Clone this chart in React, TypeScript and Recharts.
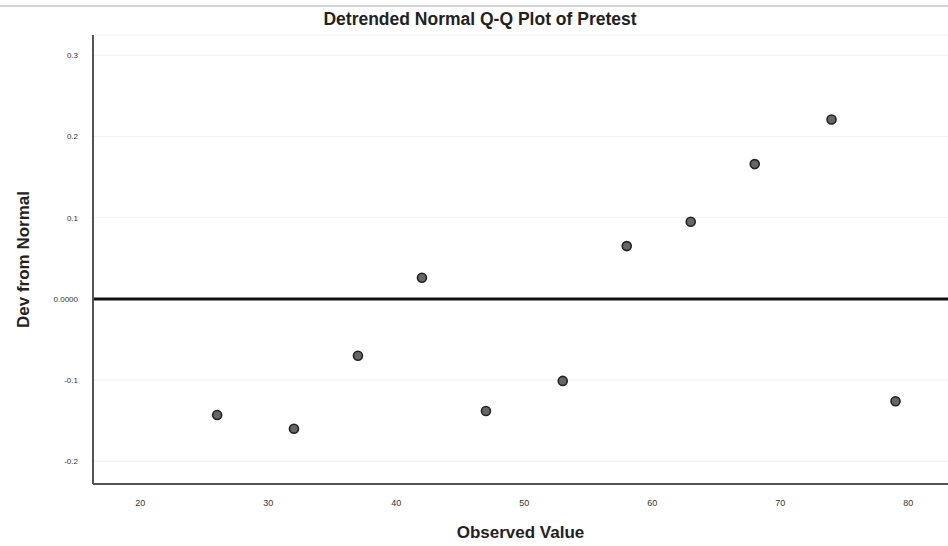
import {
  ScatterChart,
  Scatter,
  XAxis,
  YAxis,
  CartesianGrid,
  ReferenceLine,
} from 'recharts'

// observed pretest score vs deviation from normal
const observed = [26, 32, 37, 42, 47, 53, 58, 63, 68, 74, 79]
const deviation = [-0.143, -0.16, -0.07, 0.026, -0.138, -0.101, 0.065, 0.095, 0.166, 0.221, -0.126]
const xTicks = [20, 30, 40, 50, 60, 70, 80]
const yTicks = [-0.2, -0.1, 0, 0.1, 0.2, 0.3]

const points = observed.map((x, i) => ({ x, y: deviation[i] }))

const W = 948
const H = 546

function Dot(props: any) {
  const { cx, cy } = props
  if (cx == null || cy == null) return null
  return <circle cx={cx} cy={cy} r={4.5} fill="#666" stroke="#222" strokeWidth={1.6} />
}

const fmtY = (v: number) => (v === 0 ? '0.0000' : String(v))

export default function App() {
  return (
    <div style={{ position: 'absolute', left: 0, top: 0, width: W, height: H, background: '#fff', fontFamily: 'Arial, "Liberation Sans", sans-serif' }}>
      <div style={{ position: 'absolute', left: 0, top: 5, width: W, borderTop: '2px solid #d4d4d4' }} />
      <div
        style={{
          position: 'absolute',
          left: 0,
          top: 9,
          width: 960,
          textAlign: 'center',
          fontSize: 17.5,
          lineHeight: '20px',
          fontWeight: 'bold',
          color: '#222',
        }}
      >
        Detrended Normal Q-Q Plot of Pretest
      </div>
      <ScatterChart width={W} height={H} margin={{ top: 35, right: 0, bottom: 0, left: 0 }}>
        <CartesianGrid vertical={false} stroke="#f1f1f1" />
        <XAxis
          type="number"
          dataKey="x"
          domain={[16.3, 83.1]}
          ticks={xTicks}
          height={62}
          axisLine={{ stroke: '#555', strokeWidth: 2 }}
          tickLine={false}
          tick={{ fontSize: 9, fill: '#333' }}
          tickMargin={10}
          label={{ value: 'Observed Value', position: 'insideBottom', offset: 8, style: { fontSize: 17, fontWeight: 'bold', fill: '#222' } }}
        />
        <YAxis
          type="number"
          dataKey="y"
          domain={[-0.228, 0.325]}
          ticks={yTicks}
          width={93}
          axisLine={{ stroke: '#555', strokeWidth: 2 }}
          tickLine={false}
          tick={{ fontSize: 8, fill: '#333' }}
          tickMargin={9}
          tickFormatter={fmtY}
          label={{ value: 'Dev from Normal', angle: -90, position: 'insideLeft', offset: 23, style: { textAnchor: 'middle', fontSize: 17, fontWeight: 'bold', fill: '#222' } }}
        />
        <ReferenceLine y={0} stroke="#111" strokeWidth={3} />
        <Scatter data={points} shape={<Dot />} isAnimationActive={false} />
      </ScatterChart>
    </div>
  )
}
